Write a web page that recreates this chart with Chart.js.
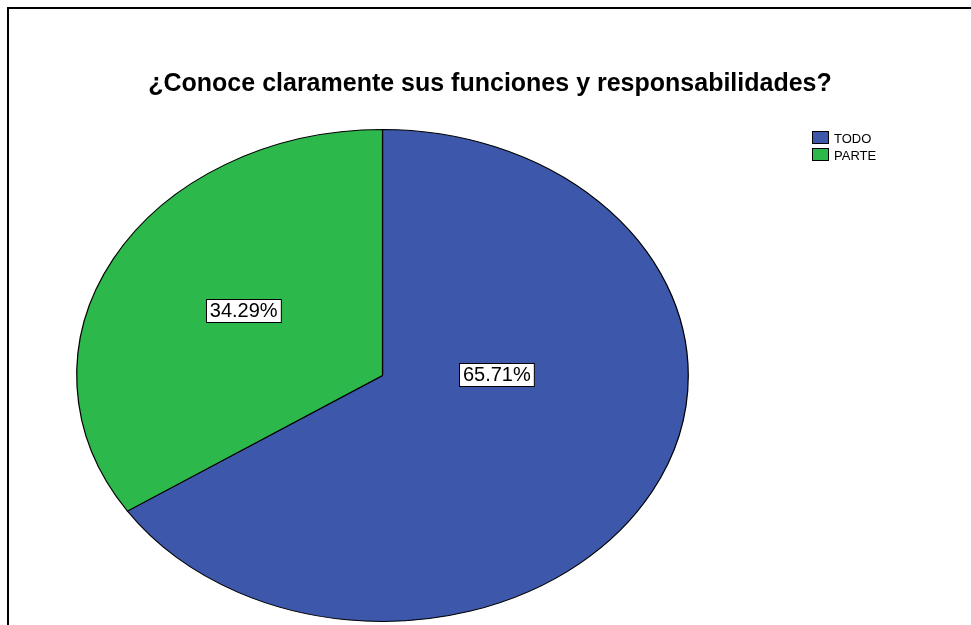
<!DOCTYPE html>
<html>
<head>
<meta charset="utf-8">
<script src="https://cdn.jsdelivr.net/npm/chart.js@4.4.1/dist/chart.umd.min.js"></script>
<style>
  html, body { margin: 0; padding: 0; background: #fff; }
  #wrap { width: 971px; height: 625px; position: relative; }
</style>
</head>
<body>
<div id="wrap"><canvas id="pieChart"></canvas></div>
<script>
// answers to the survey question
const categories = ["TODO", "PARTE"];
const percentages = [65.71, 34.29];
const sliceColors = ["#3d58ab", "#2db84b"];

const chartTitle = "¿Conoce claramente sus funciones y responsabilidades?";

// the pie is stretched sideways into an ellipse
const stretchX = 1.243;
// where each value box sits, in units of the radius from the centre
const labelAnchors = [[0.374, -0.004], [-0.454, -0.264]];

const fontFamily = "'Liberation Sans', Arial, sans-serif";

const ellipsePlugin = {
    id: "ellipse",
    beforeDatasetsDraw(chart) {
        const arc = chart.getDatasetMeta(0).data[0];
        const ctx = chart.ctx;
        ctx.save();
        ctx.translate(arc.x, arc.y);
        ctx.scale(stretchX, 1);
        ctx.translate(-arc.x, -arc.y);
    },
    afterDatasetsDraw(chart) {
        chart.ctx.restore();
    }
};

const decorPlugin = {
    id: "decor",
    afterDraw(chart) {
        const ctx = chart.ctx;
        ctx.save();

        // outer frame
        ctx.strokeStyle = "#000";
        ctx.lineWidth = 2;
        ctx.strokeRect(8, 8, 1100, 1100);

        // title
        ctx.fillStyle = "#000";
        ctx.font = "bold 25px " + fontFamily;
        ctx.textAlign = "center";
        ctx.textBaseline = "alphabetic";
        ctx.fillText(chartTitle, 490, 91);

        // legend
        ctx.font = "13px " + fontFamily;
        ctx.textAlign = "left";
        ctx.lineWidth = 1;
        categories.forEach(function(name, i) {
            const y = 131.5 + i * 17;
            ctx.fillStyle = sliceColors[i];
            ctx.fillRect(812.5, y, 16, 12);
            ctx.strokeStyle = "#000";
            ctx.strokeRect(812.5, y, 16, 12);
            ctx.fillStyle = "#000";
            ctx.fillText(name, 834, y + 11.5);
        });

        // value boxes
        const meta = chart.getDatasetMeta(0);
        ctx.font = "20px " + fontFamily;
        ctx.textAlign = "center";
        ctx.textBaseline = "middle";
        meta.data.forEach(function(arc, i) {
            const r = arc.outerRadius;
            const cx = arc.x + labelAnchors[i][0] * r * stretchX;
            const cy = arc.y + labelAnchors[i][1] * r;
            const text = percentages[i].toFixed(2) + "%";
            const w = ctx.measureText(text).width + 7;
            const h = 23;
            const bx = Math.round(cx - w / 2) + 0.5;
            const by = Math.round(cy - h / 2) + 0.5;
            ctx.fillStyle = "#fff";
            ctx.fillRect(bx, by, w, h);
            ctx.strokeStyle = "#000";
            ctx.strokeRect(bx, by, w, h);
            ctx.fillStyle = "#000";
            ctx.fillText(text, cx, cy + 1);
        });

        ctx.restore();
    }
};

const ctx = document.getElementById("pieChart");
const pieChart = new Chart(ctx, {
    type: "pie",
    data: {
        labels: categories,
        datasets: [{
            data: percentages,
            backgroundColor: sliceColors,
            borderColor: "#000",
            borderWidth: 1
        }]
    },
    options: {
        responsive: true,
        maintainAspectRatio: false,
        animation: false,
        events: [],
        layout: {
            padding: { left: 136, top: 129, right: 342, bottom: 3 }
        },
        plugins: {
            legend: { display: false },
            title: { display: false },
            tooltip: { enabled: false }
        }
    },
    plugins: [ellipsePlugin, decorPlugin]
});
</script>
</body>
</html>
